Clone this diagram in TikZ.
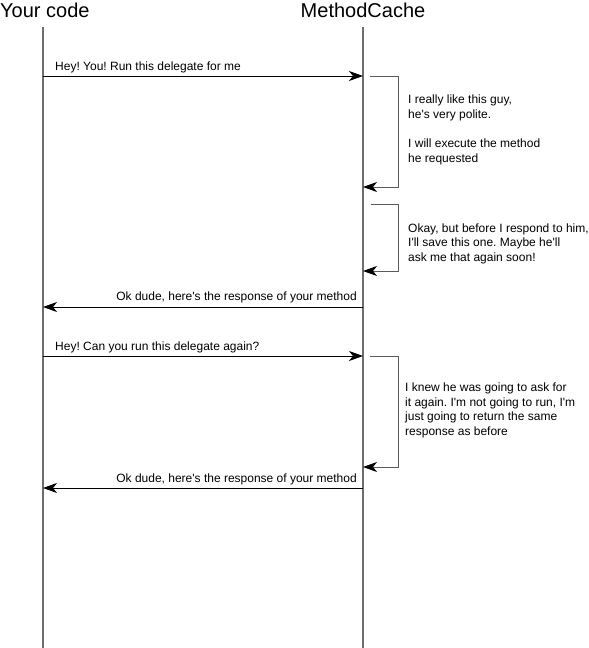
\documentclass[tikz,border=0pt]{standalone}
\usepackage{fontspec}
\setmainfont{Liberation Sans}[Ligatures=TeXOff]
\usetikzlibrary{arrows.meta}
\definecolor{lifegray}{RGB}{110,110,110}
\definecolor{selfgray}{RGB}{90,90,90}
\frenchspacing
\begin{document}
\begin{tikzpicture}[x=1pt,y=-1pt,
  title/.style={inner sep=0pt, anchor=base, font=\fontsize{20}{24}\selectfont},
  lifeline/.style={draw=lifegray, line width=1.3pt},
  msg/.style={draw=black, line width=0.9pt, -{Stealth[length=14pt,width=10pt,inset=4pt]}},
  selfmsg/.style={draw=selfgray, line width=0.9pt, -{Stealth[length=14pt,width=10pt,inset=4pt,color=black]}},
  lbl/.style={inner sep=0pt, font=\fontsize{12}{14.5}\selectfont\frenchspacing},
  note/.style={inner sep=0pt, anchor=base west, align=left, font=\fontsize{12}{14.5}\selectfont\frenchspacing}]
\useasboundingbox (0,0) rectangle (589,648);
% heads
\node[title, anchor=base west] (you) at (0,17) {Your code};
\node[title] (mc) at (363,17) {MethodCache};
% lifelines
\coordinate (youtop) at (43,27);
\coordinate (youbot) at (43,648);
\coordinate (mctop) at (363,27);
\coordinate (mcbot) at (363,648);
\draw[lifeline] (youtop) -- (youbot);
\draw[lifeline] (mctop) -- (mcbot);
% message 1
\coordinate (m1a) at (43,76);
\coordinate (m1b) at (363,76);
\draw[msg] (m1a) -- (m1b);
\node[lbl, anchor=base west] (l1) at (55,70) {Hey! You! Run this delegate for me};
% self 1
\coordinate (s1a) at (370,76);
\coordinate (s1c) at (398,187);
\coordinate (s1b) at (363,187);
\draw[selfmsg] (s1a) -| (s1c) -- (s1b);
\node[note] (n1) at (408,162) {I really like this guy,\\he's very polite.\\[15pt]I will execute the method\\he requested};
% self 2
\coordinate (s2a) at (371,204);
\coordinate (s2c) at (398,271);
\coordinate (s2b) at (363,271);
\draw[selfmsg] (s2a) -| (s2c) -- (s2b);
\node[note] (n2) at (408,261) {Okay, but before I respond to him,\\I'll save this one. Maybe he'll\\ask me that again soon!};
% return 1
\coordinate (r1a) at (363,307);
\coordinate (r1b) at (43,307);
\draw[msg] (r1a) -- (r1b);
\node[lbl, anchor=base east] (l2) at (357,300) {Ok dude, here's the response of your method};
% message 2
\coordinate (m2a) at (43,356);
\coordinate (m2b) at (363,356);
\draw[msg] (m2a) -- (m2b);
\node[lbl, anchor=base west] (l3) at (55,350) {Hey! Can you run this delegate again?};
% self 3
\coordinate (s3a) at (370,356);
\coordinate (s3c) at (398,467);
\coordinate (s3b) at (363,467);
\draw[selfmsg] (s3a) -| (s3c) -- (s3b);
\node[note] (n3) at (405,435) {I knew he was going to ask for\\it again. I'm not going to run, I'm\\just going to return the same\\response as before};
% return 2
\coordinate (r2a) at (363,488);
\coordinate (r2b) at (43,488);
\draw[msg] (r2a) -- (r2b);
\node[lbl, anchor=base east] (l4) at (357,482) {Ok dude, here's the response of your method};
\end{tikzpicture}
\end{document}
